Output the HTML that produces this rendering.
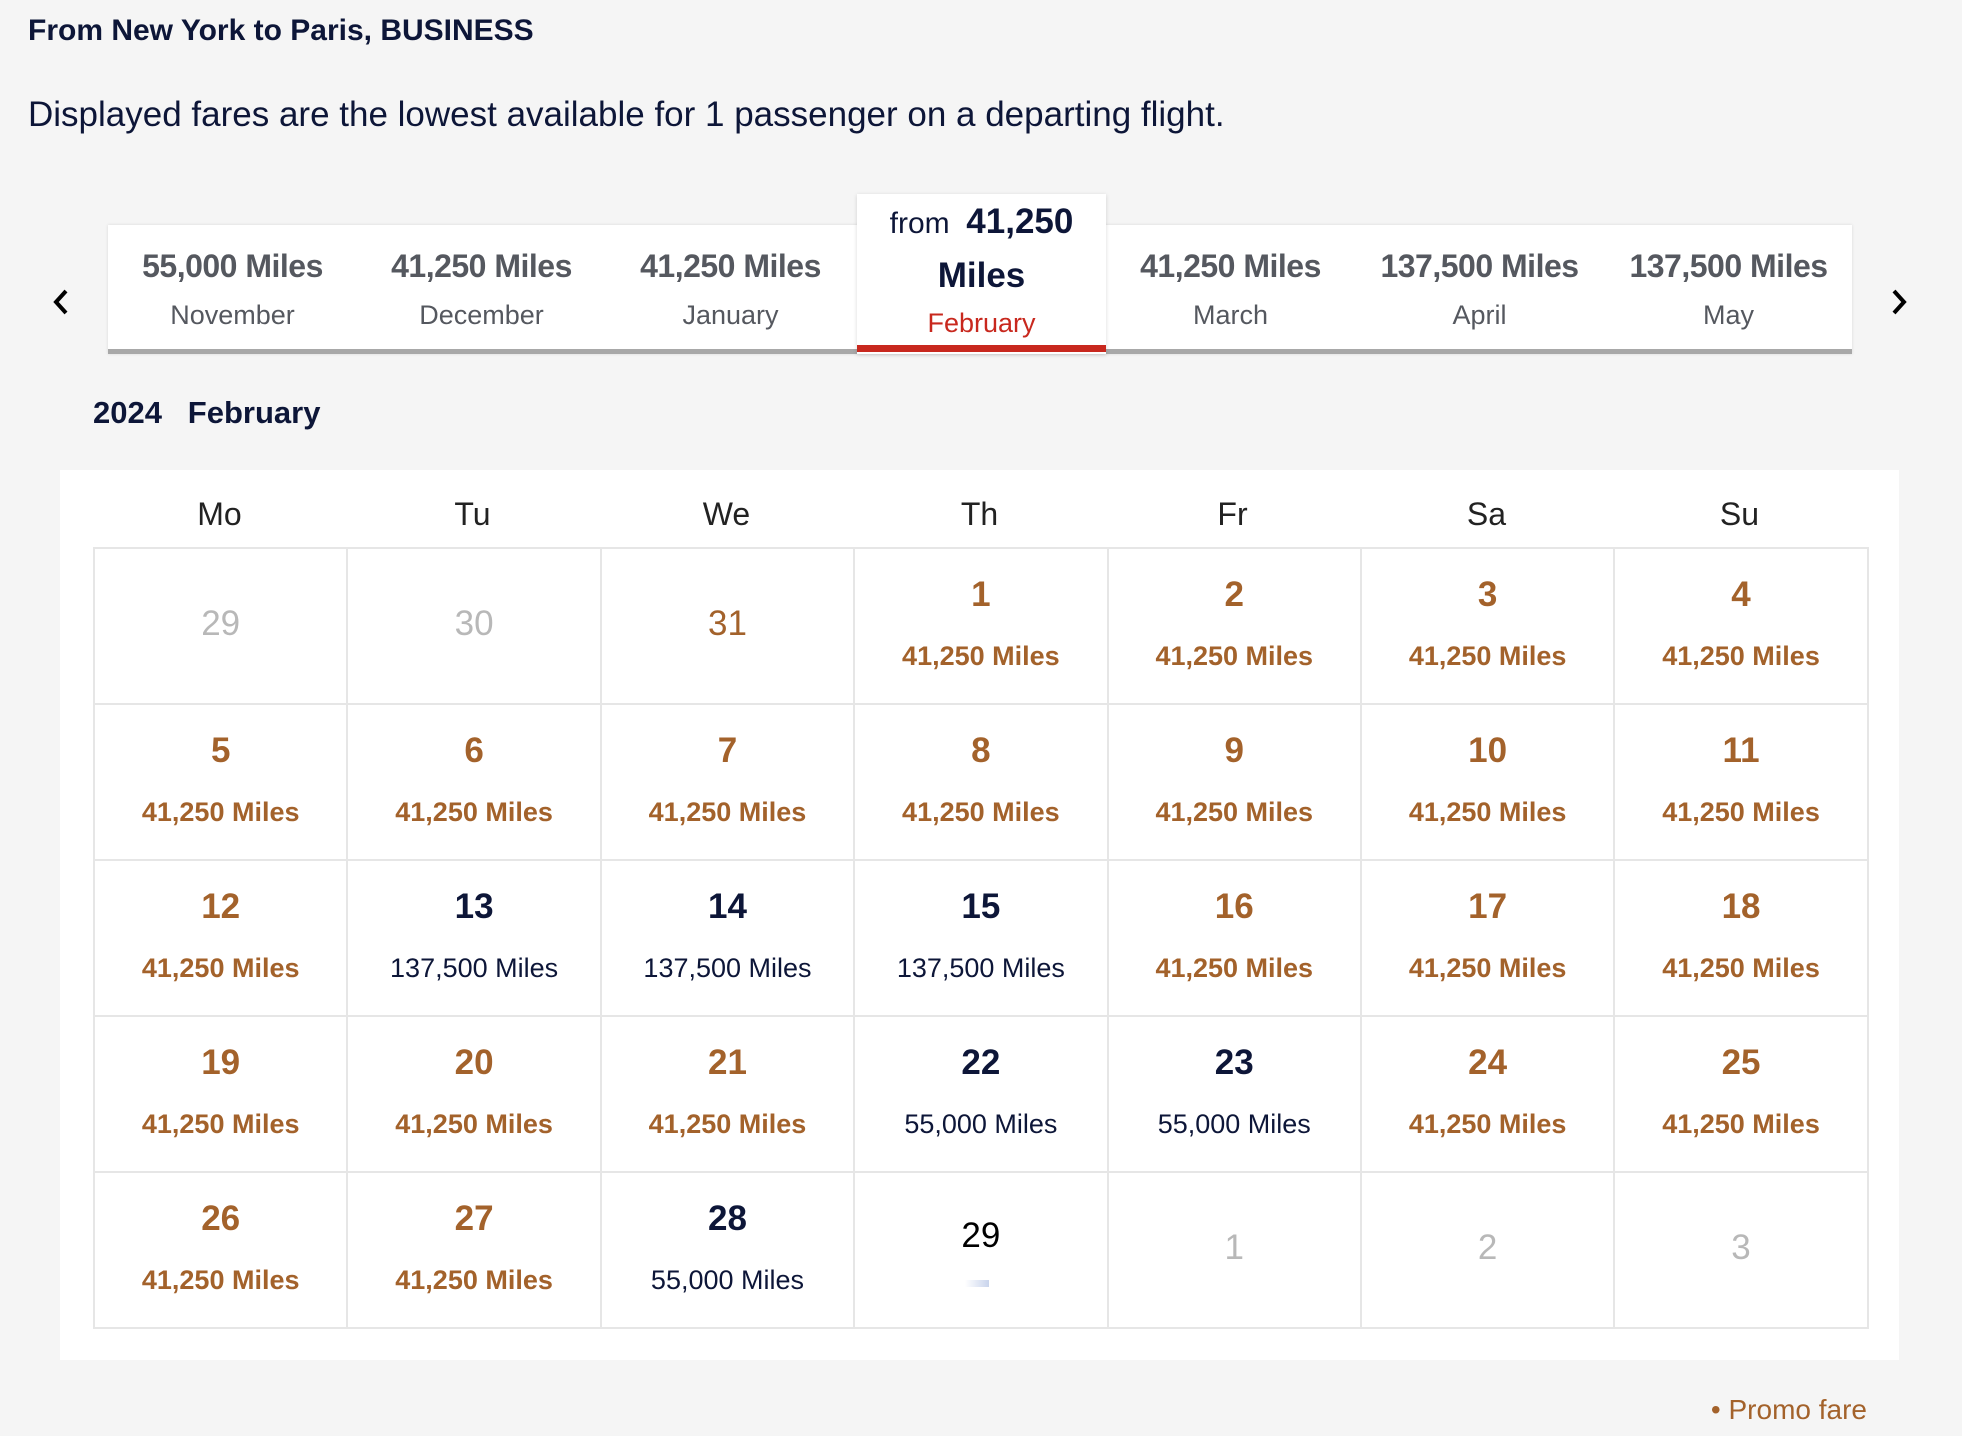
<!DOCTYPE html>
<html><head><meta charset="utf-8"><style>
*{margin:0;padding:0;box-sizing:border-box}
body{width:1962px;height:1436px;background:#f5f5f5;font-family:"Liberation Sans",sans-serif;color:#0d1638;position:relative;overflow:hidden}
.a{position:absolute;white-space:nowrap}
.strip{position:absolute;left:108px;top:225px;width:1744px;height:129px;background:#fff;box-shadow:0 0 3px rgba(0,0,0,.12);border-bottom:5px solid #a8a8a8}
.tab{position:absolute;top:225px;width:249px;height:124px;text-align:center}
.tab .m{position:absolute;left:0;right:0;top:23px;font-size:32px;font-weight:bold;color:#55585f;letter-spacing:-0.5px}
.tab .n{position:absolute;left:0;right:0;top:75px;font-size:27px;color:#55585f}
.act{position:absolute;left:857px;top:194px;width:249px;height:160px;background:#fff;box-shadow:0 1px 4px rgba(0,0,0,.15);text-align:center}
.panel{position:absolute;left:60px;top:470px;width:1839px;height:890px;background:#fff}
.dn{position:absolute;top:496px;width:253px;text-align:center;font-size:32px;color:#222}
table{position:absolute;left:93px;top:547px;border-collapse:collapse}
td{width:253.4px;height:156px;border:2px solid #e6e6e6;text-align:center;vertical-align:top;position:relative}
td .d{position:absolute;left:0;right:0;top:26px;font-size:35px;font-weight:bold;color:#a3622b}
td .p{position:absolute;left:0;right:0;top:92px;font-size:27px;font-weight:bold;color:#a3622b}
td.n .d{color:#0d1638}
td.n .p{color:#0d1638;font-weight:normal}
td .g{position:absolute;left:0;right:0;top:55px;font-size:35px;color:#b8b8b8}
</style></head><body>
<div class="a" style="left:28px;top:14px;font-size:30px;font-weight:bold">From New York to Paris, BUSINESS</div>
<div class="a" style="left:28px;top:95px;font-size:35px">Displayed fares are the lowest available for 1 passenger on a departing flight.</div>
<svg class="a" style="left:50px;top:288px" width="22" height="28"><polyline points="16,3 6,14 16,25" fill="none" stroke="#000" stroke-width="4"/></svg>
<svg class="a" style="left:1888px;top:288px" width="22" height="28"><polyline points="6,3 16,14 6,25" fill="none" stroke="#000" stroke-width="4"/></svg>
<div class="strip"></div>
<div class="tab" style="left:108px"><div class="m">55,000 Miles</div><div class="n">November</div></div>
<div class="tab" style="left:357px"><div class="m">41,250 Miles</div><div class="n">December</div></div>
<div class="tab" style="left:606px"><div class="m">41,250 Miles</div><div class="n">January</div></div>
<div class="tab" style="left:1106px"><div class="m">41,250 Miles</div><div class="n">March</div></div>
<div class="tab" style="left:1355px"><div class="m">137,500 Miles</div><div class="n">April</div></div>
<div class="tab" style="left:1604px"><div class="m">137,500 Miles</div><div class="n">May</div></div>
<div class="act">
<div class="a" style="left:0;right:0;top:8px;font-size:30px"><span>from</span>&nbsp; <b style="font-size:35px">41,250</b></div>
<div class="a" style="left:0;right:0;top:62px;font-size:35px;font-weight:bold">Miles</div>
<div class="a" style="left:0;right:0;top:114px;font-size:27px;color:#c8281e">February</div>
<div style="position:absolute;left:0;right:0;top:151px;height:7px;background:#c8281e"></div>
</div>
<div class="a" style="left:93px;top:395px;font-size:31px;font-weight:bold">2024&nbsp;&nbsp; February</div>
<div class="panel"></div>
<div class="dn" style="left:93px">Mo</div><div class="dn" style="left:346px">Tu</div><div class="dn" style="left:600px">We</div><div class="dn" style="left:853px">Th</div><div class="dn" style="left:1106px">Fr</div><div class="dn" style="left:1360px">Sa</div><div class="dn" style="left:1613px">Su</div>
<table>
<tr><td><div class="g">29</div></td><td><div class="g">30</div></td><td><div class="g" style="color:#a3622b">31</div></td>
<td><div class="d">1</div><div class="p">41,250 Miles</div></td><td><div class="d">2</div><div class="p">41,250 Miles</div></td><td><div class="d">3</div><div class="p">41,250 Miles</div></td><td><div class="d">4</div><div class="p">41,250 Miles</div></td></tr>
<tr><td><div class="d">5</div><div class="p">41,250 Miles</div></td><td><div class="d">6</div><div class="p">41,250 Miles</div></td><td><div class="d">7</div><div class="p">41,250 Miles</div></td><td><div class="d">8</div><div class="p">41,250 Miles</div></td><td><div class="d">9</div><div class="p">41,250 Miles</div></td><td><div class="d">10</div><div class="p">41,250 Miles</div></td><td><div class="d">11</div><div class="p">41,250 Miles</div></td></tr>
<tr><td><div class="d">12</div><div class="p">41,250 Miles</div></td><td class="n"><div class="d">13</div><div class="p">137,500 Miles</div></td><td class="n"><div class="d">14</div><div class="p">137,500 Miles</div></td><td class="n"><div class="d">15</div><div class="p">137,500 Miles</div></td><td><div class="d">16</div><div class="p">41,250 Miles</div></td><td><div class="d">17</div><div class="p">41,250 Miles</div></td><td><div class="d">18</div><div class="p">41,250 Miles</div></td></tr>
<tr><td><div class="d">19</div><div class="p">41,250 Miles</div></td><td><div class="d">20</div><div class="p">41,250 Miles</div></td><td><div class="d">21</div><div class="p">41,250 Miles</div></td><td class="n"><div class="d">22</div><div class="p">55,000 Miles</div></td><td class="n"><div class="d">23</div><div class="p">55,000 Miles</div></td><td><div class="d">24</div><div class="p">41,250 Miles</div></td><td><div class="d">25</div><div class="p">41,250 Miles</div></td></tr>
<tr><td><div class="d">26</div><div class="p">41,250 Miles</div></td><td><div class="d">27</div><div class="p">41,250 Miles</div></td><td class="n"><div class="d">28</div><div class="p">55,000 Miles</div></td><td><div class="g" style="color:#000;top:43px">29</div><div style="position:absolute;left:110px;top:107px;width:24px;height:7px;background:linear-gradient(90deg,#fff,#c9d4ec)"></div></td><td><div class="g">1</div></td><td><div class="g">2</div></td><td><div class="g">3</div></td></tr>
</table>
<div class="a" style="right:95px;top:1394px;font-size:28px;color:#a3622b">&#8226; Promo fare</div>
</body></html>
